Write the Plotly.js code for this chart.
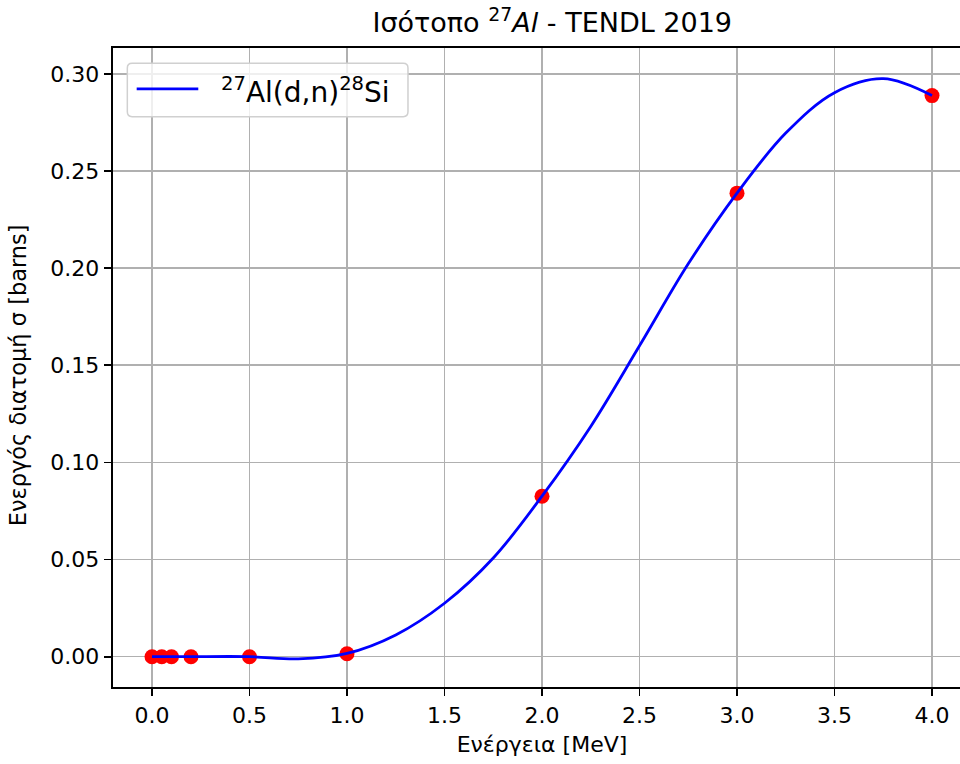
<!DOCTYPE html>
<html>
<head>
<meta charset="utf-8">
<script src="https://cdn.plot.ly/plotly-3.0.1.min.js"></script>
<style>
  html, body { margin: 0; padding: 0; overflow: hidden; background: #ffffff; }
  #chart { width: 972px; height: 764px; }
</style>
</head>
<body>
<div id="chart"></div>
<script>
// TENDL 2019 evaluated points for 27Al(d,n)28Si
const energyPoints = [0, 0.05, 0.1, 0.2, 0.5, 1.0, 2.0, 3.0, 4.0];
const sigmaPoints  = [0, 0, 0, 0, 0, 0.0015, 0.0826, 0.2386, 0.2888];

// Smooth fitted curve through the evaluated points
const energyCurve = [0, 0.1, 0.2, 0.5, 0.75, 1.0, 1.25, 1.5, 1.75, 2.0, 2.25, 2.5, 2.75, 3.0, 3.25, 3.5, 3.75, 4.0];
const sigmaCurve  = [0, 0, 0, 0, -0.0011, 0.0017, 0.0112, 0.0275, 0.0508, 0.0826, 0.1185, 0.160, 0.2022, 0.2386, 0.2695, 0.2903, 0.2975, 0.2888];

const xTicks = [0, 0.5, 1.0, 1.5, 2.0, 2.5, 3.0, 3.5, 4.0];
const yTicks = [0, 0.05, 0.10, 0.15, 0.20, 0.25, 0.30];

const legendLabel = '<sup>27</sup>Al(d,n)<sup>28</sup>Si';
const FONT = 'DejaVu Sans, sans-serif';

const traces = [
  {
    x: energyPoints, y: sigmaPoints,
    type: 'scatter', mode: 'markers',
    marker: { color: '#ff0000', size: 15 },
    showlegend: false, hoverinfo: 'x+y'
  },
  {
    x: energyCurve, y: sigmaCurve,
    type: 'scatter', mode: 'lines',
    line: { color: '#0000ff', width: 2.8, shape: 'spline', smoothing: 1 },
    name: legendLabel, showlegend: false
  }
];

// rounded legend frame in paper coordinates
const lx0 = 0.0167, lx1 = 0.3438, ly0 = 0.8926, ly1 = 0.9761;
const rx = 0.0055, ry = 0.0075;
const framePath =
  `M ${lx0 + rx},${ly0} L ${lx1 - rx},${ly0} Q ${lx1},${ly0} ${lx1},${ly0 + ry} ` +
  `L ${lx1},${ly1 - ry} Q ${lx1},${ly1} ${lx1 - rx},${ly1} ` +
  `L ${lx0 + rx},${ly1} Q ${lx0},${ly1} ${lx0},${ly1 - ry} ` +
  `L ${lx0},${ly0 + ry} Q ${lx0},${ly0} ${lx0 + rx},${ly0} Z`;

const axisCommon = {
  showline: true, linecolor: '#000000', linewidth: 1.8, mirror: true,
  ticks: 'outside', ticklen: 7.5, tickwidth: 1.8, tickcolor: '#000000',
  showgrid: true, gridcolor: '#b0b0b0', gridwidth: 1.6,
  zeroline: false,
  tickfont: { family: FONT, size: 22, color: '#000000' }
};

const layout = {
  width: 972, height: 764,
  margin: { l: 113, r: 1, t: 48, b: 77 },
  paper_bgcolor: '#ffffff', plot_bgcolor: '#ffffff',
  font: { family: FONT, color: '#000000' },
  title: {
    text: 'Ισότοπο <sup>27</sup><i>Al</i> - TENDL 2019',
    font: { family: FONT, size: 27, color: '#000000' },
    x: 0.512, xref: 'paper', xanchor: 'center',
    y: 0.970, yref: 'container', yanchor: 'middle'
  },
  xaxis: Object.assign({}, axisCommon, {
    range: [-0.2, 4.2],
    tickvals: xTicks,
    ticktext: xTicks.map(v => v.toFixed(1)),
    title: { text: 'Ενέργεια [MeV]', font: { family: FONT, size: 22, color: '#000000' }, standoff: 10 }
  }),
  yaxis: Object.assign({}, axisCommon, {
    range: [-0.0156, 0.3133],
    tickvals: yTicks,
    ticktext: yTicks.map(v => v.toFixed(2))
  }),
  shapes: [
    {
      type: 'path', xref: 'paper', yref: 'paper', path: framePath,
      fillcolor: 'rgba(255,255,255,0.8)', line: { color: '#d0d0d0', width: 1.5 },
      layer: 'above'
    },
    {
      type: 'line', xref: 'paper', yref: 'paper',
      x0: 0.0276, x1: 0.0994, y0: 0.9359, y1: 0.9359,
      line: { color: '#0000ff', width: 2.8 }, layer: 'above'
    }
  ],
  annotations: [
    {
      xref: 'paper', yref: 'paper', x: 0.1240, y: 0.9340,
      xanchor: 'left', yanchor: 'middle', showarrow: false,
      text: legendLabel,
      font: { family: FONT, size: 28, color: '#000000' }
    },
    {
      // y-axis title
      xref: 'paper', yref: 'paper', x: -0.1107, y: 0.488,
      xanchor: 'center', yanchor: 'middle', showarrow: false,
      textangle: -90,
      text: 'Ενεργός διατομή σ [barns]',
      font: { family: FONT, size: 22.5, color: '#000000' }
    }
  ]
};

Plotly.newPlot('chart', traces, layout, { displayModeBar: false, staticPlot: true });
</script>
</body>
</html>
